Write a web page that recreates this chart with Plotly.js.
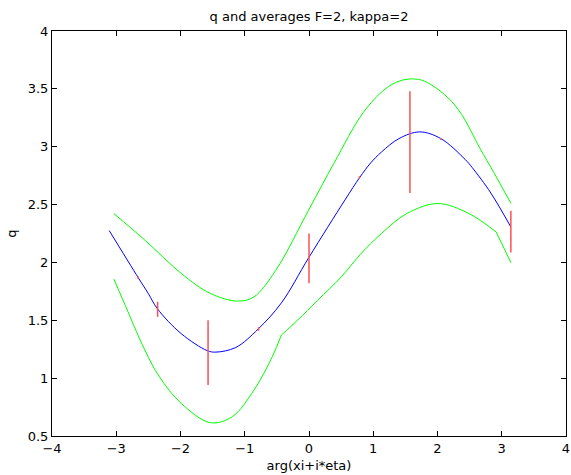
<!DOCTYPE html>
<html><head><meta charset="utf-8">
<script src="https://cdn.plot.ly/plotly-3.0.1.min.js"></script>
<style>html,body{margin:0;padding:0;background:#fff}#chart{width:571px;height:475px}</style>
</head><body><div id="chart"></div>
<script>
// q curve (blue)
const qX = [-3.11, -2.66, -2.50, -2.36, -1.99, -1.58, -1.45, -1.14, -0.79, -0.43, 0.0, 0.56, 0.79, 0.96, 1.13, 1.40, 1.72, 2.05, 2.43, 2.54, 2.83, 3.14];
const qY = [2.276, 1.870, 1.73, 1.60, 1.385, 1.237, 1.225, 1.265, 1.425, 1.65, 2.045, 2.54, 2.735, 2.86, 2.955, 3.07, 3.128, 3.071, 2.89, 2.82, 2.60, 2.307];
// upper envelope (green)
const upX = [-3.04, -2.555, -1.989, -1.535, -1.11, -0.856, -0.516, -0.006, 0.391, 0.844, 1.184, 1.40, 1.609, 1.80, 2.15, 2.374, 2.657, 2.884, 3.144];
const upY = [2.423, 2.193, 1.905, 1.732, 1.666, 1.703, 1.933, 2.452, 2.86, 3.295, 3.498, 3.566, 3.586, 3.566, 3.43, 3.28, 2.99, 2.77, 2.509];
// lower envelope (green)
const loX = [-3.037, -2.895, -2.555, -2.329, -1.989, -1.535, -1.195, -0.856, -0.572, -0.43, -0.176, 0.136, 0.504, 0.80, 1.127, 1.524, 2.006, 2.487, 2.912, 3.144];
const loY = [1.856, 1.674, 1.243, 1.012, 0.782, 0.615, 0.667, 0.897, 1.185, 1.372, 1.502, 1.674, 1.876, 2.07, 2.25, 2.423, 2.509, 2.423, 2.264, 1.997];
const loKinks = [-0.43, 2.912];
// averages (red vertical bars)
const barX = [-2.661, -2.356, -1.571, -0.785, 0.0, 0.785, 1.571, 2.05, 3.142];
const barLow = [1.86, 1.53, 0.94, 1.41, 1.82, 2.725, 2.60, 3.06, 2.086];
const barHigh = [1.88, 1.66, 1.50, 1.44, 2.25, 2.745, 3.48, 3.075, 2.446];
// ticks
const xTicks = [-4, -3, -2, -1, 0, 1, 2, 3, 4];
const xTickText = ['\u22124', '\u22123', '\u22122', '\u22121', '0', '1', '2', '3', '4'];
const yTicks = [0.5, 1, 1.5, 2, 2.5, 3, 3.5, 4];
const yTickText = ['0.5', '1', '1.5', '2', '2.5', '3', '3.5', '4'];

const traces = [];
const green = '#00ff00';
const sp = {shape: 'spline', smoothing: 1};
traces.push({x: qX, y: qY, mode: 'lines', line: Object.assign({color: '#0000ff', width: 1}, sp), hoverinfo: 'skip'});
traces.push({x: upX, y: upY, mode: 'lines', line: Object.assign({color: green, width: 1}, sp), hoverinfo: 'skip'});
// split lower curve at its kinks
let start = 0;
const cuts = loKinks.map(k => loX.indexOf(k)).concat([loX.length - 1]);
cuts.forEach(c => {
  traces.push({x: loX.slice(start, c + 1), y: loY.slice(start, c + 1), mode: 'lines',
    line: Object.assign({color: green, width: 1}, sp), hoverinfo: 'skip'});
  start = c;
});
const bx = [], by = [];
barX.forEach((x, i) => { bx.push(x, x, null); by.push(barLow[i], barHigh[i], null); });
traces.push({x: bx, y: by, mode: 'lines', line: {color: '#ff5050', width: 1.5}, hoverinfo: 'skip'});

const font = {family: 'DejaVu Sans, Liberation Sans, Arial, sans-serif', size: 13, color: '#000'};
const axisCommon = {showgrid: false, zeroline: false, showline: true, linecolor: '#000', linewidth: 1,
  mirror: 'ticks', ticks: 'inside', ticklen: 5, tickcolor: '#000', tickwidth: 1, tickfont: font};
const layout = {
  width: 571, height: 475,
  margin: {l: 52, r: 5, t: 31, b: 39},
  paper_bgcolor: '#fff', plot_bgcolor: '#fff',
  showlegend: false, font: font,
  title: {text: 'q and averages F=2, kappa=2', font: font, x: 0.5, xref: 'paper', y: 1 - 16/475, yref: 'container', yanchor: 'middle'},
  xaxis: Object.assign({}, axisCommon, {range: [-4, 4], tickmode: 'array', tickvals: xTicks, ticktext: xTickText,
    title: {text: 'arg(xi+i*eta)', font: font, standoff: 6}}),
  yaxis: Object.assign({}, axisCommon, {range: [0.5, 4], tickmode: 'array', tickvals: yTicks, ticktext: yTickText,
    title: {text: 'q', font: font, standoff: 8}})
};
Plotly.newPlot('chart', traces, layout, {staticPlot: true, displayModeBar: false});
</script>
</body></html>
